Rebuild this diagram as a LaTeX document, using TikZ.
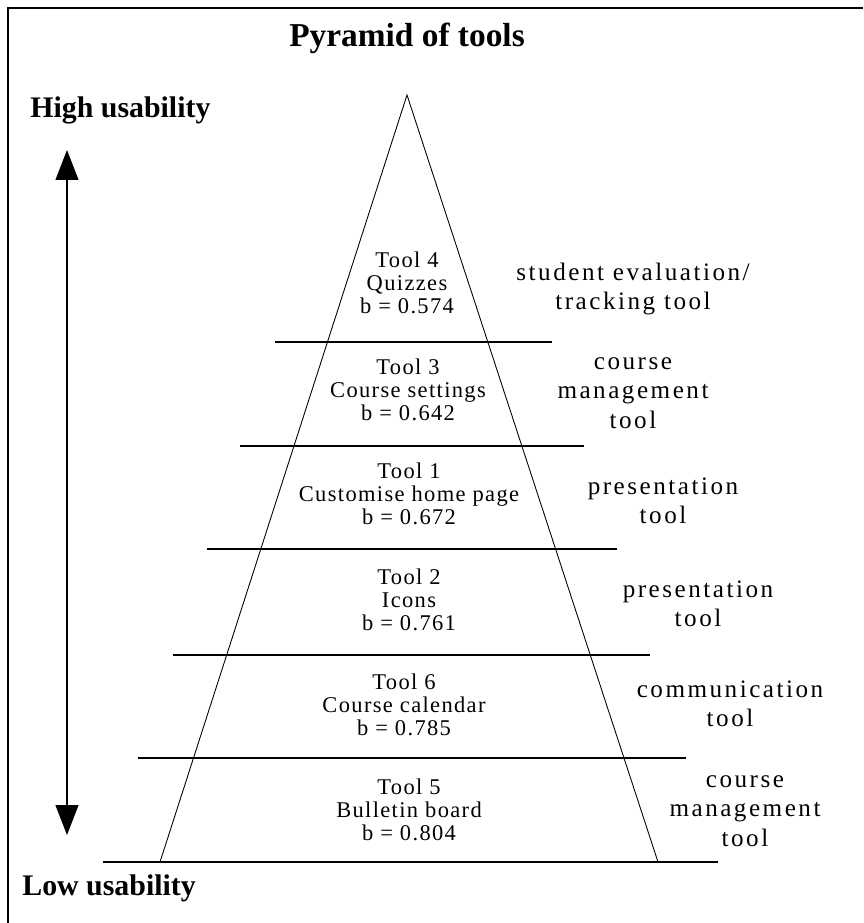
\documentclass[tikz,border=0pt]{standalone}
\usepackage{fontspec}
\setmainfont{Liberation Serif}
\newfontfamily\toolfont[LetterSpace=6]{Liberation Serif}
\newfontfamily\sidefont[LetterSpace=10]{Liberation Serif}
\usetikzlibrary{arrows.meta}

\begin{document}
\begin{tikzpicture}[x=0.02cm,y=-0.02cm,
    tool/.style={align=center, inner sep=0pt, font=\toolfont\fontsize{12.8}{13.2}\selectfont},
    side/.style={align=center, inner sep=0pt, font=\sidefont\fontsize{14.3}{16.8}\selectfont},
    heading/.style={inner sep=0pt, font=\bfseries\fontsize{17}{20}\selectfont}]

        \useasboundingbox (0,0) rectangle (863,923);

        % Frame (top and left edges)
        \draw[line width=1.2pt] (8,923) -- (8,8) -- (863,8);

        % Title
        \node[heading, font=\bfseries\fontsize{19}{22}\selectfont] (title) at (407,38) {Pyramid of tools};

        % Pyramid outline
        \coordinate (apex) at (407,95);
        \coordinate (baseL) at (160,862);
        \coordinate (baseR) at (658,862);
        \draw[line width=0.5pt] (baseL) -- (apex) -- (baseR);

        % Layer lines
        \coordinate (l1a) at (275,342); \coordinate (l1b) at (552,342);
        \coordinate (l2a) at (240,446); \coordinate (l2b) at (584,446);
        \coordinate (l3a) at (207,549); \coordinate (l3b) at (617,549);
        \coordinate (l4a) at (173,655); \coordinate (l4b) at (650,655);
        \coordinate (l5a) at (138,758); \coordinate (l5b) at (686,758);
        \coordinate (l6a) at (103,862); \coordinate (l6b) at (718,862);
        \draw[line width=0.6pt] (l1a) -- (l1b);
        \draw[line width=0.6pt] (l2a) -- (l2b);
        \draw[line width=0.6pt] (l3a) -- (l3b);
        \draw[line width=0.6pt] (l4a) -- (l4b);
        \draw[line width=0.6pt] (l5a) -- (l5b);
        \draw[line width=0.6pt] (l6a) -- (l6b);

        % Usability axis
        \node[heading, anchor=west] (high) at (30,110) {High usability};
        \node[heading, anchor=west] (low) at (22,888) {Low usability};
        \coordinate (axisTop) at (67,150);
        \coordinate (axisBot) at (67,835);
        \draw[line width=0.7pt, {Triangle[width=0.46cm,length=0.6cm]}-{Triangle[width=0.46cm,length=0.6cm]}] (axisTop) -- (axisBot);

        % Tools inside the pyramid
        \node[tool] (tool4) at (407,283) {Tool 4\\Quizzes\\b = 0.574};
        \node[tool] (tool3) at (408,390) {Tool 3\\Course settings\\b = 0.642};
        \node[tool] (tool1) at (409,494) {Tool 1\\Customise home page\\b = 0.672};
        \node[tool] (tool2) at (409,600) {Tool 2\\Icons\\b = 0.761};
        \node[tool] (tool6) at (404,705) {Tool 6\\Course calendar\\b = 0.785};
        \node[tool] (tool5) at (409,810) {Tool 5\\Bulletin board\\b = 0.804};

        % Tool categories
        \node[side] (cat4) at (633,289) {student evaluation/\\tracking tool};
        \node[side] (cat3) at (633,393) {course\\management\\tool};
        \node[side] (cat1) at (663,501) {presentation\\tool};
        \node[side] (cat2) at (698,604) {presentation\\tool};
        \node[side] (cat6) at (730,704) {communication\\tool};
        \node[side] (cat5) at (745,811) {course\\management\\tool};

\end{tikzpicture}
\end{document}
